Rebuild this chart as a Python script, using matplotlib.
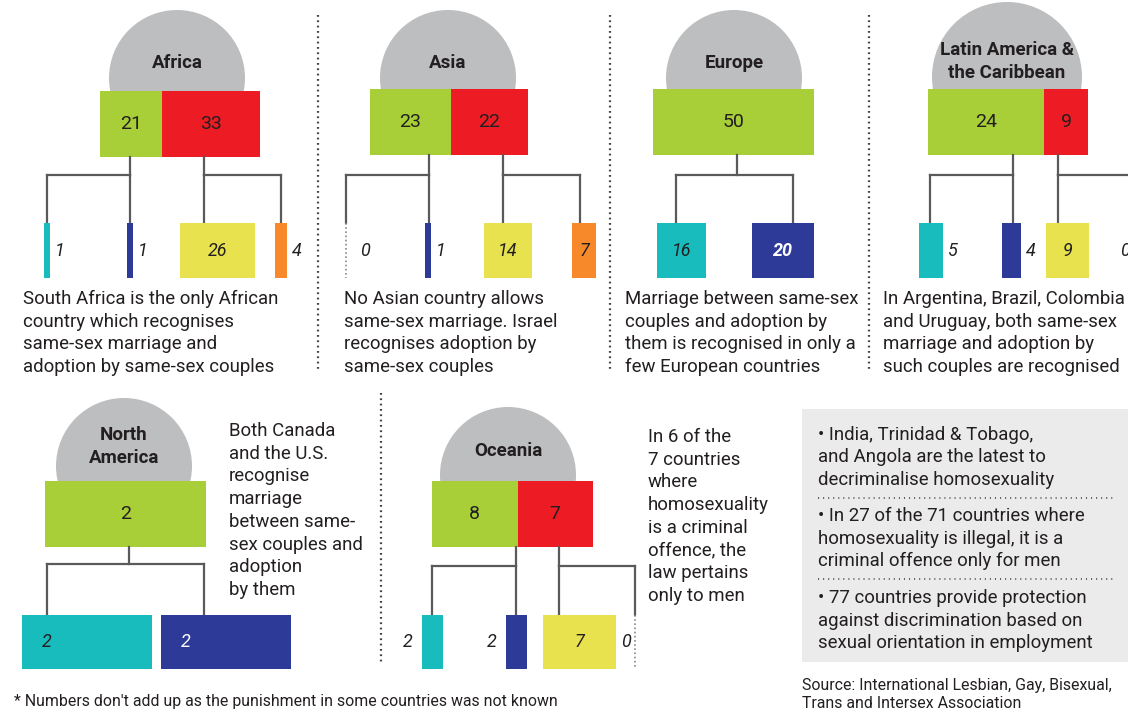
import matplotlib.pyplot as plt
from matplotlib.patches import Circle, Rectangle

plt.rcParams["font.family"] = ["Roboto", "DejaVu Sans"]

# ---- data ----
regions = ["Africa", "Asia", "Europe", "Latin America &\nthe Caribbean", "North\nAmerica", "Oceania"]
legal = [21, 23, 50, 24, 2, 8]
illegal = [33, 22, 0, 9, 0, 7]
marriage = [1, 0, 16, 5, 2, 2]
adoption = [1, 1, 20, 4, 2, 2]
prison = [26, 14, None, 9, None, 7]
death = [4, 7, None, 0, None, 0]

notes = [
    "South Africa is the only African\ncountry which recognises\nsame-sex marriage and\nadoption by same-sex couples",
    "No Asian country allows\nsame-sex marriage. Israel\nrecognises adoption by\nsame-sex couples",
    "Marriage between same-sex\ncouples and adoption by\nthem is recognised in only a\nfew European countries",
    "In Argentina, Brazil, Colombia\nand Uruguay, both same-sex\nmarriage and adoption by\nsuch couples are recognised",
    "Both Canada\nand the U.S.\nrecognise\nmarriage\nbetween same-\nsex couples and\nadoption\nby them",
    "In 6 of the\n7 countries\nwhere\nhomosexuality\nis a criminal\noffence, the\nlaw pertains\nonly to men",
]
facts = [
    "\u2022 India, Trinidad & Tobago,\nand Angola are the latest to\ndecriminalise homosexuality",
    "\u2022 In 27 of the 71 countries where\nhomosexuality is illegal, it is a\ncriminal offence only for men",
    "\u2022 77 countries provide protection\nagainst discrimination based on\nsexual orientation in employment",
]
footnote = "* Numbers don't add up as the punishment in some countries was not known"
source = "Source: International Lesbian, Gay, Bisexual,\nTrans and Intersex Association"

# ---- style / layout (pixels) ----
GREEN, RED = "#a8cf38", "#ed1c24"
CYAN, NAVY, YELLOW, ORANGE = "#19bcbc", "#2e3a97", "#e7e24e", "#f7892a"
GREY = "#bdbec0"
INK = "#231f20"
LINE = "#5a5a5a"
BODY = 13.4

layout = [
    dict(circle=(177, 78, 68), title_y=[63], top=(100, 91, 66, 2.97), join=175, bot=(223, 55, 2.9),
         lefts=[44, 127, 180, 275], links=[(130, [47, 130]), (204, [204, 281])],
         sides=["r", "r", "c", "r"], note=(23, 304)),
    dict(circle=(448, 78, 68), title_y=[63], top=(370, 89, 66, 3.5), join=175, bot=(223, 55, 3.43),
         lefts=[346, 425, 484, 572], links=[(429, [346, 429]), (503, [503, 580])],
         sides=["r", "r", "c", "c"], note=(344, 304)),
    dict(circle=(734, 78, 68), title_y=[63], top=(653, 89, 66, 3.22), join=175, bot=(223, 55, 3.08),
         lefts=[657, 752], links=[(737, [676, 793])],
         sides=["c", "c"], note=(625, 304), bold_in=True),
    dict(circle=(1007, 77, 75), title_y=[50, 73], top=(928, 89, 66, 4.85), join=175, bot=(223, 55, 4.75),
         lefts=[919, 1002, 1046, 1134], links=[(1013, [930, 1013]), (1058, [1058, 1134])],
         sides=["r", "r", "c", "l"], note=(883, 304)),
    dict(circle=(124, 466, 68), title_y=[435, 458], top=(45, 481, 66, 80.5), join=564, bot=(615, 54, 65),
         lefts=[22, 161], links=[(129, [47, 204])],
         sides=["cl", "cl"], note=(229, 436)),
    dict(circle=(508, 475, 68), title_y=[451], top=(432, 481, 66, 10.7), join=566, bot=(615, 54, 10.4),
         lefts=[422, 506, 543, 635], links=[(516, [432, 516]), (559, [559, 635])],
         sides=["l", "l", "c", "l"], note=(648, 442)),
]

fig = plt.figure(figsize=(11.28, 7.11), dpi=100)
ax = fig.add_axes([0, 0, 1, 1])
ax.set_xlim(0, 1128)
ax.set_ylim(711, 0)
ax.axis("off")

STEP = 22.7


def lines(x, y, text, size=BODY, step=STEP, **kw):
    for i, s in enumerate(text.split("\n")):
        ax.text(x, y + i * step, s, fontsize=size, color=INK, va="baseline", ha="left", **kw)


for i, lay in enumerate(layout):
    cx, cy, r = lay["circle"]
    ax.add_patch(Circle((cx, cy), r, color=GREY, zorder=1, lw=0))
    for t, ty in zip(regions[i].split("\n"), lay["title_y"]):
        ax.text(cx, ty, t, fontsize=13.5, fontweight="bold", color=INK,
                ha="center", va="center", zorder=3)

    # top bar: legal vs illegal
    x0, ty, th, s = lay["top"]
    top_vals = [v for v in (legal[i], illegal[i]) if v]
    top_cols = [GREEN, RED][:len(top_vals)]
    widths = [v * s for v in top_vals]
    lefts = [x0 + sum(widths[:k]) for k in range(len(widths))]
    ax.barh([ty + th / 2] * len(widths), widths, left=lefts, height=th,
            color=top_cols, zorder=2, linewidth=0)
    for v, w, l in zip(top_vals, widths, lefts):
        ax.text(l + w / 2, ty + th / 2, str(v), fontsize=14, color=INK,
                ha="center", va="center", zorder=3)

    # connectors
    by, bh, bs = lay["bot"]
    for drop, xs in lay["links"]:
        ax.plot([drop, drop], [ty + th, lay["join"]], color=LINE, lw=1.6, zorder=2)
        ax.plot([min(xs + [drop]), max(xs + [drop])], [lay["join"]] * 2, color=LINE, lw=1.6, zorder=2)
        for x in xs:
            ax.plot([x, x], [lay["join"], by], color=LINE, lw=1.6, zorder=2)

    # bottom bars
    vals = [marriage[i], adoption[i], prison[i], death[i]][:len(lay["lefts"])]
    cols = [CYAN, NAVY, YELLOW, ORANGE][:len(vals)]
    bw = [max(v * bs, 6) if v else 0 for v in vals]
    ax.bar(lay["lefts"], [bh] * len(vals), width=bw, bottom=by, align="edge",
           color=cols, zorder=2, linewidth=0)
    for v, w, l, c, side in zip(vals, bw, lay["lefts"], cols, lay["sides"]):
        if v == 0:
            ax.plot([l, l], [by, by + bh], color="#888888", lw=1.2,
                    linestyle=(0, (1, 1.5)), zorder=2)
        ym = by + bh / 2
        col = "white" if c == NAVY and side.startswith("c") else INK
        weight = "bold" if (lay.get("bold_in") and col == "white") else "normal"
        kw = dict(fontsize=13, style="italic", color=col, va="center", zorder=3, fontweight=weight)
        if side == "c":
            ax.text(l + w / 2, ym, str(v), ha="center", **kw)
        elif side == "cl":
            ax.text(l + w * 0.19, ym, str(v), ha="center", **kw)
        elif side == "r":
            ax.text(l + w + (14 if v == 0 else 5), ym, str(v), ha="left", **kw)
        else:
            ax.text(l - (4 if v == 0 else 9), ym, str(v), ha="right", **kw)

    nx, ny = lay["note"]
    lines(nx, ny, notes[i])

# dotted separators
for x, y0, y1 in [(318, 15, 372), (610, 15, 372), (869, 15, 372), (381, 393, 665)]:
    ax.plot([x, x], [y0, y1], color="#444444", lw=1.6, linestyle=(0, (0.8, 1.6)))

# facts box
ax.add_patch(Rectangle((802, 409), 340, 253, color="#ebebeb", lw=0, zorder=0))
for f, fy in zip(facts, [440, 521, 603]):
    lines(818, fy, f, step=22.5)
for dy in [498, 579]:
    ax.plot([818, 1113], [dy, dy], color="#555555", lw=1.3, linestyle=(0, (0.6, 2.2)))

lines(14, 706, footnote, size=11.4)
lines(802, 690, source, size=11.4, step=18)

fig.savefig("out.png", dpi=100)
